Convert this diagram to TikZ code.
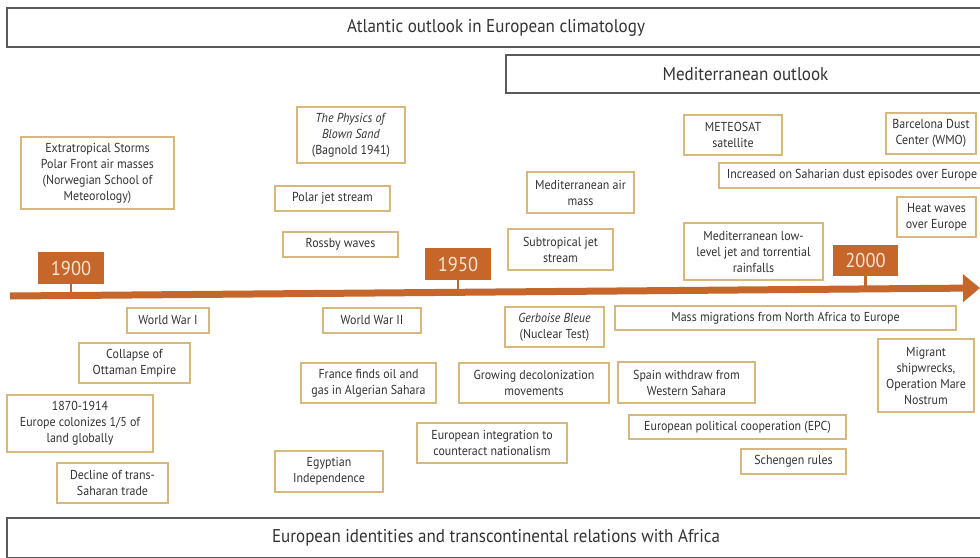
\documentclass[tikz,border=0pt]{standalone}
\usepackage{fontspec}
\setmainfont{PT Sans}[FakeStretch=0.92]
\usetikzlibrary{arrows.meta}
\definecolor{tlorange}{HTML}{C6662B}
\definecolor{boxgold}{HTML}{D6B77C}
\definecolor{txtgray}{HTML}{333333}
\definecolor{framegray}{HTML}{5A5A5A}
\definecolor{yeartxt}{HTML}{F6E7D4}
\tikzset{
  evbox/.style={draw=boxgold, line width=1.3pt, fill=white, align=center, inner sep=0pt, text=txtgray, font=\fontsize{13}{16}\selectfont},
  framebox/.style={draw=framegray, line width=1.2pt, fill=white, inner sep=0pt, text=txtgray, font=\fontsize{18.5}{21}\selectfont},
  yearbox/.style={fill=tlorange, inner sep=0pt, text=yeartxt, font=\fontsize{20}{22}\selectfont},
  yeartick/.style={draw=tlorange, line width=2.5pt},
  timeline/.style={draw=tlorange, line width=7pt, -{Triangle[length=17pt,width=27pt]}}
}
\newcommand{\evnode}[7]{\node[#7, minimum width={(#4)-(#2)}, minimum height={(#5)-(#3)}] (#1) at ({((#2)+(#4))/2},{((#3)+(#5))/2}) {#6};}
\begin{document}
\begin{tikzpicture}[x=1pt,y=-1pt]
\path[fill=white] (0,0) rectangle (980,557);
\clip (0,0) rectangle (980,557);
% outlook frames
\evnode{atl}{7}{8}{985}{47}{Atlantic outlook in European climatology}{framebox}
\evnode{med}{506}{55}{985}{93}{Mediterranean outlook}{framebox}
\evnode{eur}{7}{518}{985}{558}{European identities and transcontinental relations with Africa}{framebox}
% year boxes
\evnode{y1900}{38}{252}{104}{284}{1900}{yearbox}
\evnode{y1950}{425}{248}{491}{280}{1950}{yearbox}
\evnode{y2000}{833}{245}{898}{276}{2000}{yearbox}
\coordinate (tlstart) at (10,296);
\coordinate (tlend) at (980,288);
\draw[yeartick] (y1900.south) -- ++(0,11);
\draw[yeartick] (y1950.south) -- ++(0,11);
\draw[yeartick] (y2000.south) -- ++(0,11);
\draw[timeline] (tlstart) -- (tlend);
% climate events (above)
\evnode{extra}{21}{137}{174}{209}{Extratropical Storms\\Polar Front air masses\\(Norwegian School of\\Meteorology)}{evbox}
\evnode{phys}{297}{107}{405}{163}{\textit{The Physics of}\\\textit{Blown Sand}\\(Bagnold 1941)}{evbox}
\evnode{polar}{275}{186}{390}{211}{Polar jet stream}{evbox}
\evnode{rossby}{283}{232}{398}{257}{Rossby waves}{evbox}
\evnode{medair}{527}{172}{634}{213}{Mediterranean air\\mass}{evbox}
\evnode{subtrop}{508}{229}{613}{270}{Subtropical jet\\stream}{evbox}
\evnode{meteo}{684}{115}{782}{155}{METEOSAT\\satellite}{evbox}
\evnode{barca}{886}{113}{976}{154}{Barcelona Dust\\Center (WMO)}{evbox}
\evnode{incr}{719}{163}{985}{188}{Increased on Saharian dust episodes over Europe}{evbox}
\evnode{heat}{897}{197}{976}{237}{Heat waves\\over Europe}{evbox}
\evnode{medlow}{684}{223}{823}{280}{Mediterranean low-\\level jet and torrential\\rainfalls}{evbox}
% political events (below)
\evnode{ww1}{127}{308}{209}{333}{World War I}{evbox}
\evnode{ww2}{323}{308}{421}{333}{World War II}{evbox}
\evnode{gerb}{505}{307}{604}{347}{\textit{Gerboise Bleue}\\(Nuclear Test)}{evbox}
\evnode{mass}{615}{306}{956}{330}{Mass migrations from North Africa to Europe}{evbox}
\evnode{collapse}{79}{343}{190}{383}{Collapse of\\Ottaman Empire}{evbox}
\evnode{france}{301}{363}{436}{403}{France finds oil and\\gas in Algerian Sahara}{evbox}
\evnode{decol}{459}{363}{609}{403}{Growing decolonization\\movements}{evbox}
\evnode{spain}{618}{362}{755}{403}{Spain withdraw from\\Western Sahara}{evbox}
\evnode{migrant}{878}{339}{974}{412}{Migrant\\shipwrecks,\\Operation Mare\\Nostrum}{evbox}
\evnode{colon}{7}{395}{153}{452}{1870-1914\\Europe colonizes 1/5 of\\land globally}{evbox}
\evnode{integ}{417}{423}{567}{463}{European integration to\\counteract nationalism}{evbox}
\evnode{epc}{629}{415}{846}{439}{European political cooperation (EPC)}{evbox}
\evnode{scheng}{741}{449}{846}{474}{Schengen rules}{evbox}
\evnode{decline}{57}{463}{168}{503}{Decline of trans-\\Saharan trade}{evbox}
\evnode{egypt}{275}{451}{383}{492}{Egyptian\\Independence}{evbox}
\end{tikzpicture}
\end{document}
